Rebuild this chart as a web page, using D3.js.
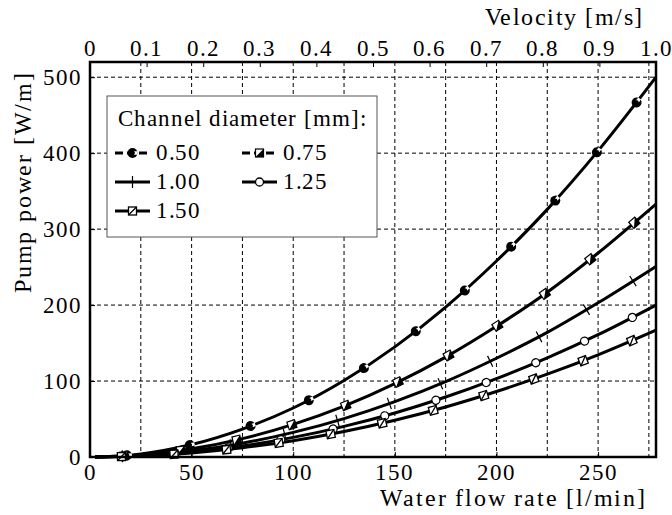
<!DOCTYPE html>
<html>
<head>
<meta charset="utf-8">
<script src="https://cdn.jsdelivr.net/npm/d3@7"></script>
<style>
  @font-face { font-family: 'ChartSerif'; src: local('Liberation Serif'), local('LiberationSerif'), local('Tinos'), local('Times New Roman'); }
  body { margin: 0; background: #fff; }
  #wrap { position: relative; width: 672px; height: 515px; color: #000; }
  #wrap svg { position: absolute; left: 0; top: 0; display: block; }
  #wrap .lbl { position: absolute; white-space: nowrap; line-height: 1;
    font-family: 'ChartSerif', 'Liberation Serif', Tinos, 'Times New Roman', Times, serif !important; }
  .grid line { stroke: #000; stroke-width: 1; stroke-dasharray: 4,3; }
</style>
</head>
<body>
<div id="wrap"><svg id="chart" width="672" height="515"></svg></div>
<script>
// flow rate samples [l/min]
var flow = [2.5, 25, 50, 75, 100, 125, 150, 175, 200, 225, 250, 278.5];

// pump power [W/m] for each channel diameter
var p050 = [0, 4.0, 16.4, 36.8, 64.5, 100.7, 145.0, 197.4, 258.0, 326.0, 403.0, 500.0];
var p075 = [0, 2.7, 10.8, 24.2, 43.0, 67.0, 96.6, 131.5, 172.0, 217.0, 268.5, 333.0];
var p100 = [0, 2.0, 8.1, 18.2, 32.4, 50.6, 73.0, 99.3, 130.0, 164.0, 203.0, 251.0];
var p125 = [0, 1.6, 6.4, 14.5, 25.8, 40.3, 58.0, 79.0, 103.2, 130.5, 161.0, 200.0];
var p150 = [0, 1.3, 5.4, 12.1, 21.5, 33.6, 48.4, 65.9, 86.2, 109.0, 134.5, 167.0];

var diameters = ["0.50", "0.75", "1.00", "1.25", "1.50"];
var seriesValues = [p050, p075, p100, p125, p150];
var markerTypes = ["dotc", "halfsq", "plus", "circle", "slashsq"];

var xTicks = [0, 50, 100, 150, 200, 250];
var xGrid = [25, 50, 75, 100, 125, 150, 175, 200, 225, 250, 275];
var yTicks = [0, 100, 200, 300, 400, 500];
var vTicks = [0, 0.1, 0.2, 0.3, 0.4, 0.5, 0.6, 0.7, 0.8, 0.9, 1.0];

var wrap = d3.select("#wrap");
var svg = d3.select("#chart");

var plotL = 90, plotR = 656, plotT = 62, plotB = 457;

var x = d3.scaleLinear().domain([0, 278.5]).range([plotL, plotR]);
var v = d3.scaleLinear().domain([0, 1]).range([plotL, plotR]);
var y = d3.scaleLinear().domain([0, 520]).range([plotB, plotT]);

// html text so the serif font is used
// anchor: "c" centre, "r" right/baseline, "l" left/baseline
function label(txt, px, py, size, spacing, anchor, rot) {
    var d = wrap.append("div")
        .attr("class", "lbl")
        .style("font-size", size + "px")
        .style("letter-spacing", spacing + "px")
        .text(txt);
    if (anchor == "c") {
        d.style("left", px + "px").style("top", py + "px")
            .style("transform", "translate(-50%,-50%)" + (rot ? " rotate(" + rot + "deg)" : ""));
    } else if (anchor == "r") {
        d.style("left", (px + spacing) + "px").style("top", (py - 0.8375 * size) + "px")
            .style("transform", "translate(-100%,0)");
    } else {
        d.style("left", px + "px").style("top", (py - 0.8375 * size) + "px");
    }
    return d;
}

// dashed grid
var grid = svg.append("g").attr("class", "grid");
grid.selectAll(".gx")
    .data(xGrid)
    .enter().append("line")
    .attr("x1", function(d) { return x(d); })
    .attr("x2", function(d) { return x(d); })
    .attr("y1", plotT)
    .attr("y2", plotB);
grid.selectAll(".gy")
    .data(yTicks.filter(function(d) { return d > 0; }))
    .enter().append("line")
    .attr("x1", plotL)
    .attr("x2", plotR)
    .attr("y1", function(d) { return y(d); })
    .attr("y2", function(d) { return y(d); });

// axes: inward ticks only, labels go in html
function styleAxis(g) {
    g.select(".domain").remove();
    g.selectAll(".tick line").attr("stroke", "#000").attr("stroke-width", 1);
    g.selectAll(".tick text").remove();
}

svg.append("g")
    .attr("transform", "translate(0," + plotB + ")")
    .call(d3.axisBottom(x).tickValues(xTicks).tickSizeInner(-5))
    .call(styleAxis);

svg.append("g")
    .attr("transform", "translate(" + plotL + ",0)")
    .call(d3.axisLeft(y).tickValues(yTicks).tickSizeInner(-5))
    .call(styleAxis);

svg.append("g")
    .attr("transform", "translate(0," + plotT + ")")
    .call(d3.axisTop(v).tickValues(vTicks).tickSizeInner(-5))
    .call(styleAxis);

xTicks.forEach(function(t) { label(d3.format("d")(t), x(t), 473, 22.5, 1, "c"); });
yTicks.forEach(function(t) {
    label(d3.format("d")(t), 82, y(t) + 1, 22.5, 1, "c")
        .style("transform", "translate(-100%,-50%)");
});
vTicks.forEach(function(t) { label(t == 0 ? "0" : d3.format(".1f")(t), v(t), 49, 22.5, 1, "c"); });

// the lines
var line = d3.line()
    .x(function(d) { return x(d[0]); })
    .y(function(d) { return y(d[1]); })
    .curve(d3.curveMonotoneX);

var curves = svg.append("g");
var markerLayer = svg.append("g");

function drawMarker(g, type) {
    if (type == "dotc") {
        g.append("circle").attr("r", 5).attr("fill", "#000");
        g.append("path").attr("d", "M1.4,-1.7 A2.2,2.2 0 0,1 1.4,1.7 L5,1.7 L5,-1.7 Z").attr("fill", "#fff");
    } else if (type == "halfsq") {
        g.append("rect").attr("x", -4).attr("y", -4).attr("width", 8).attr("height", 8)
            .attr("fill", "#fff").attr("stroke", "#000").attr("stroke-width", 1.2);
        g.append("path").attr("d", "M-4,4 L4,-4 L4,4 Z").attr("fill", "#000");
    } else if (type == "plus") {
        g.append("path").attr("d", "M-6,0 L6,0 M0,-6 L0,6").attr("stroke", "#000").attr("stroke-width", 1.2);
    } else if (type == "circle") {
        g.append("circle").attr("r", 4).attr("fill", "#fff").attr("stroke", "#000").attr("stroke-width", 1.3);
    } else if (type == "slashsq") {
        g.append("rect").attr("x", -4).attr("y", -4).attr("width", 8).attr("height", 8)
            .attr("fill", "#fff").attr("stroke", "#000").attr("stroke-width", 1.3);
        g.append("path").attr("d", "M-4,4 L4,-4").attr("stroke", "#000").attr("stroke-width", 1.3);
    }
}

seriesValues.forEach(function(vals, i) {
    var pts = flow.map(function(f, j) { return [f, vals[j]]; });
    var path = curves.append("path")
        .datum(pts)
        .attr("fill", "none")
        .attr("stroke", "#000")
        .attr("stroke-width", 3)
        .attr("d", line);

    // markers evenly spaced along the drawn curve
    var node = path.node();
    var len = node.getTotalLength();
    var n = 11;
    for (var k = 0; k < n; k++) {
        var s = (k + 0.5) * len / n;
        var p = node.getPointAtLength(s);
        var p2 = node.getPointAtLength(Math.min(len, s + 1));
        var ang = Math.atan2(p2.y - p.y, p2.x - p.x) * 180 / Math.PI;
        var g = markerLayer.append("g")
            .attr("transform", "translate(" + p.x + "," + p.y + ") rotate(" + ang + ")");
        drawMarker(g, markerTypes[i]);
    }
});

// frame
svg.append("rect")
    .attr("x", plotL).attr("y", plotT)
    .attr("width", plotR - plotL).attr("height", plotB - plotT)
    .attr("fill", "none").attr("stroke", "#000").attr("stroke-width", 2.5);

// axis titles
label("Water flow rate [l/min]", 645, 507, 23.5, 1.8, "r");
label("Velocity [m/s]", 642, 26, 23.5, 1.5, "r");
label("Pump power [W/m]", 24, 182, 23.5, 1.8, "c", -90);

// legend
var legend = svg.append("g");
legend.append("rect")
    .attr("x", 107).attr("y", 96)
    .attr("width", 270).attr("height", 141)
    .attr("fill", "#fff").attr("stroke", "#555").attr("stroke-width", 1);
label("Channel diameter [mm]:", 118, 126, 23, 1, "l");

var legendPos = [[115, 153], [242, 153], [115, 182], [242, 182], [115, 211]];
diameters.forEach(function(d, i) {
    var lx = legendPos[i][0], ly = legendPos[i][1];
    legend.append("line")
        .attr("x1", lx).attr("x2", lx + 35)
        .attr("y1", ly).attr("y2", ly)
        .attr("stroke", "#000").attr("stroke-width", 3)
        .attr("stroke-dasharray", i < 2 ? "8,4" : null);
    var g = legend.append("g").attr("transform", "translate(" + (lx + 17.5) + "," + ly + ")");
    drawMarker(g, markerTypes[i]);
    label(d, lx + 41, ly + 7, 23, 0.5, "l");
});
</script>
</body>
</html>
